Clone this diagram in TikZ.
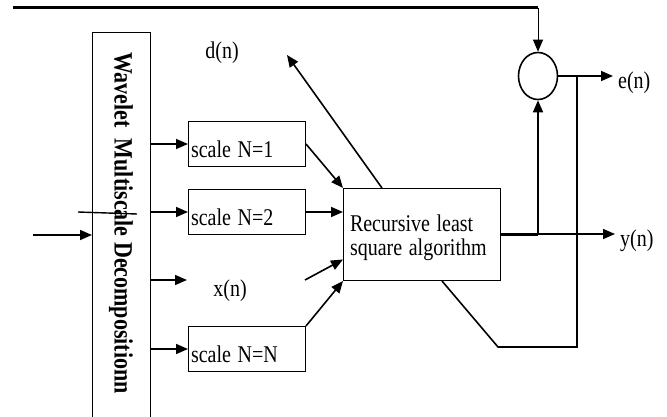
\documentclass[tikz,border=0pt]{standalone}
\usepackage{fontspec}
\setmainfont{Liberation Serif}
\usetikzlibrary{arrows.meta,shapes.geometric,calc}
\newcommand{\tall}[1]{\scalebox{1}[1.2]{#1}}
\newcommand{\tallshift}[2]{\raisebox{#1}[\height][\depth]{\scalebox{1}[1.2]{#2}}}
\begin{document}
\begin{tikzpicture}[x=1pt,y=-1pt,
  every node/.style={font=\fontsize{20}{20}\selectfont},
  box/.style={draw,line width=1pt,inner sep=0pt,anchor=north west},
  sbox/.style={box,minimum width=117pt,minimum height=45pt,text width=114pt,align=left},
  wire/.style={line width=1.6pt},
  arr/.style={wire,-{Triangle[length=12pt,width=10pt]}},
  lbl/.style={inner sep=0pt}]
\useasboundingbox (0,0) rectangle (667,417);
% boxes
\node[box,minimum width=58pt,minimum height=390pt] (wav) at (92,32) {};
\node[rotate=-90,anchor=west,inner sep=0pt,font=\fontsize{22}{24}\selectfont\bfseries] (wavt) at (121,52) {\tall{Wavelet\ \ Multiscale Decompositionn}};
\node[sbox] (s1) at (188,121) {\hspace*{1pt}\tallshift{-5pt}{scale N=1}};
\node[sbox] (s2) at (188,189) {\hspace*{1pt}\tallshift{-5pt}{scale N=2}};
\node[sbox] (sn) at (188,326) {\hspace*{1pt}\tallshift{-5pt}{scale N=N}};
\node[box,minimum width=157pt,minimum height=92pt,text width=152pt,align=left] (rls) at (343,188) {\hspace*{4pt}\tallshift{-4pt}{\begin{tabular}{@{}l@{}}Recursive least\\square algorithm\end{tabular}}};
\node[draw,ellipse,line width=1.6pt,minimum width=39pt,minimum height=47pt,inner sep=0pt] (sum) at (538,76) {};
% labels
\node[lbl] (dn) at (222,53) {\tall{d(n)}};
\node[lbl] (xn) at (230,291) {\tall{x(n)}};
\node[lbl,anchor=west] (en) at (618,83) {\tall{e(n)}};
\node[lbl,anchor=west] (yn) at (620,241) {\tall{y(n)}};
% coordinates
\coordinate (tl) at (13,8);
\coordinate (tr) at (538,8);
\coordinate (in) at (33,235);
\coordinate (c1a) at (78,212);
\coordinate (c1b) at (137,214);
\coordinate (xs) at (150,280);
\coordinate (xe) at (187,280);
\coordinate (xr) at (305,280);
\coordinate (dtip) at (287,55);
\coordinate (dbase) at (382,188);
\coordinate (enend) at (613,76);
\coordinate (fb) at (577,76);
\coordinate (fbb) at (577,347);
\coordinate (fbl) at (498,347);
\coordinate (fbd) at (442,281);
\coordinate (yj) at (538,234);
\coordinate (ynend) at (615,234);
\coordinate (rlsout) at (500,234);
% top reference path
\draw[line width=3pt] (tl) -- (tr);
\draw[line width=1pt,-{Triangle[length=12pt,width=10pt]}] (tr) -- (sum.north);
% input
\draw[arr] (in) -- (wav.west |- in);
\draw[line width=1.4pt] (c1a) -- (c1b);
% decomposition outputs
\draw[arr] (wav.east |- s1.west) -- (s1.west);
\draw[arr] (wav.east |- s2.west) -- (s2.west);
\draw[arr] (xs) -- (xe);
\draw[arr] (wav.east |- sn.west) -- (sn.west);
% into RLS
\draw[arr] (s1.east) -- (rls.north west);
\draw[arr] (s2.east) -- (rls.west |- s2.east);
\draw[arr] (xr) -- ($(rls.west)+(0,25)$);
\draw[arr] (sn.north east) -- (rls.south west);
% d(n)
\draw[arr] (dbase) -- (dtip);
% outputs
\draw[line width=3pt] (rlsout) -- (yj);
\draw[arr] (yj) -- (ynend);
\draw[arr] (yj) -- (sum.south);
\draw[arr] (sum.east) -- (enend);
\draw[wire] (fb) -- (fbb) -- (fbl) -- (fbd);
\end{tikzpicture}
\end{document}
